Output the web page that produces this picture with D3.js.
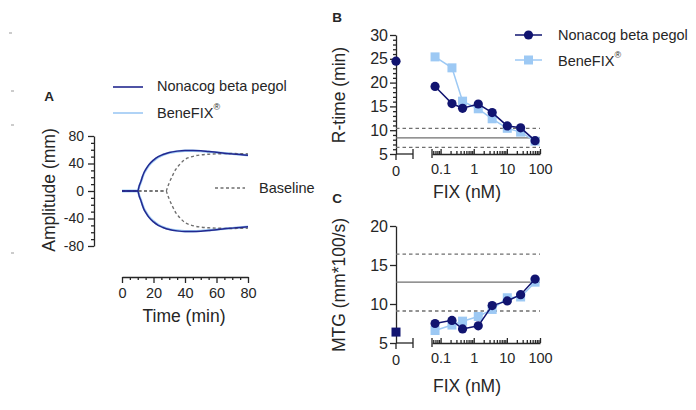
<!DOCTYPE html>
<html>
<head>
<meta charset="utf-8">
<script src="https://cdn.jsdelivr.net/npm/d3@7"></script>
<style>
  body { margin: 0; background: #fff; }
  svg { font-family: "Liberation Sans", Arial, sans-serif; }
</style>
</head>
<body>
<svg width="696" height="410"></svg>
<script>
/* data */

// panel A - amplitude traces (min / mm)
var timeA = [0, 5, 10, 11, 12, 13, 14, 15, 17, 20, 23, 26, 30, 35, 40, 45, 50, 55, 60, 65, 70, 75, 80];
var nonacogUp = [0, 0, 0, 8, 14, 21, 27, 31, 38, 45, 50, 53, 56, 58, 59, 59, 58.5, 57.5, 56.5, 55, 54, 53, 52];
var nonacogDown = [0, 0, 0, -8, -14, -21, -27, -31, -38, -45, -50, -53, -56, -58, -59, -59, -58.5, -57.5, -56.5, -55, -54, -53, -52];
var benefixUp = [0, 0, 0, 7, 13, 20, 26, 30, 37, 44, 49, 52.5, 55.5, 57.5, 58.5, 58.5, 58, 57, 56, 55, 54, 53, 52];
var benefixDown = [0, 0, 0, -7, -13, -20, -26, -30, -37, -44, -49, -52.5, -55.5, -57.5, -58.5, -58.5, -58, -57, -56, -55, -54, -53, -52];
var timeBase = [0, 10, 20, 28, 29, 30, 32, 34, 36, 38, 40, 43, 46, 50, 55, 60, 70, 80];
var baseUp = [0, 0, 0, 0, 6, 12, 22, 31, 37, 42, 46, 49, 51, 52.5, 53.5, 54, 54.5, 54];
var baseDown = [0, 0, 0, 0, -6, -12, -22, -31, -37, -42, -46, -49, -51, -52.5, -53.5, -54, -54.5, -54];

// panels B and C - FIX concentrations (nM)
var fix = [0.068, 0.22, 0.46, 1.37, 3.6, 10.3, 26, 71];

var rtimeZero = 24.5;
var rtimeNonacog = [19.2, 15.6, 14.6, 15.5, 13.7, 10.9, 10.5, 7.8];
var rtimeBenefix = [25.4, 23.1, 16.1, 14.5, 12.4, 10.4, 9.6, 7.7];
var rtimeRef = {mean: 8.4, low: 6.4, high: 10.4};

var mtgZero = 6.4;
var mtgNonacog = [7.5, 7.9, 6.8, 7.2, 9.8, 10.4, 11.2, 13.2];
var mtgBenefix = [6.6, 7.3, 7.8, 8.4, 9.3, 10.8, 10.9, 12.8];
var mtgRef = {mean: 12.8, low: 9.1, high: 16.4};

var logTicks = [0.1, 1, 10, 100];

var dark = "#111470", light = "#9dc9f4", darkA = "#23288f", grey = "#6f6f6f", ink = "#262626";

var svg = d3.select("svg");

/* little scan marks on the left edge */
[[33, 9], [91, 11], [125, 11], [253, 11]].forEach(function(m) {
  svg.append("line").attr("x1", m[1]).attr("x2", m[1] + 3).attr("y1", m[0]).attr("y2", m[0])
      .attr("stroke", "#999").attr("stroke-width", 1);
});

function label(txt, x, y, size, opts) {
  opts = opts || {};
  var t = svg.append("text").attr("x", x).attr("y", y).attr("font-size", size)
      .attr("fill", ink).attr("text-anchor", opts.anchor || "middle")
      .attr("dominant-baseline", "middle").text(txt);
  if (opts.bold) t.attr("font-weight", "bold");
  if (opts.rotate) t.attr("transform", "rotate(-90," + x + "," + y + ")");
  return t;
}

function styleAxis(size) {
  return function(g) {
    g.selectAll("path, line").attr("stroke", ink).attr("stroke-width", 1.3);
    g.selectAll("text").attr("font-size", size).attr("fill", ink);
  };
}

var plain = function(d) { return String(d); };

/* ---------------- panel A ---------------- */
var xA = d3.scaleLinear().domain([0, 80]).range([122, 248]);
var yA = d3.scaleLinear().domain([-80, 80]).range([246, 136]);

svg.append("g").attr("transform", "translate(0,277)")
    .call(d3.axisBottom(xA).tickValues([0, 20, 40, 60, 80]).tickSize(6).tickSizeOuter(0)
      .tickPadding(5).tickFormat(plain))
    .call(styleAxis(14.5));
svg.append("g").attr("transform", "translate(0,277)")
    .call(d3.axisBottom(xA).tickValues(d3.range(5, 80, 5).filter(function(d) { return d % 20; }))
      .tickSize(3).tickSizeOuter(0).tickFormat(""))
    .call(styleAxis(14.5)).select(".domain").remove();

svg.append("g").attr("transform", "translate(94,0)")
    .call(d3.axisLeft(yA).tickValues([-80, -40, 0, 40, 80]).tickSize(6).tickSizeOuter(0)
      .tickPadding(4).tickFormat(plain))
    .call(styleAxis(14));
svg.append("g").attr("transform", "translate(94,0)")
    .call(d3.axisLeft(yA).tickValues(d3.range(-70, 80, 10).filter(function(d) { return d % 40; }))
      .tickSize(3).tickSizeOuter(0).tickFormat(""))
    .call(styleAxis(14)).select(".domain").remove();

function traceLine(times) {
  return d3.line().curve(d3.curveMonotoneX)
      .x(function(d, i) { return xA(times[i]); })
      .y(function(d) { return yA(d); });
}

[benefixUp, benefixDown].forEach(function(s) {
  svg.append("path").datum(s).attr("d", traceLine(timeA))
      .attr("fill", "none").attr("stroke", light).attr("stroke-width", 2.4);
});
[baseUp, baseDown].forEach(function(s) {
  svg.append("path").datum(s).attr("d", traceLine(timeBase))
      .attr("fill", "none").attr("stroke", grey).attr("stroke-width", 1.4)
      .attr("stroke-dasharray", "3,2.5");
});
[nonacogUp, nonacogDown].forEach(function(s) {
  svg.append("path").datum(s).attr("d", traceLine(timeA))
      .attr("fill", "none").attr("stroke", darkA).attr("stroke-width", 1.5);
});

// legend A
svg.append("line").attr("x1", 113).attr("x2", 143).attr("y1", 87).attr("y2", 87)
    .attr("stroke", darkA).attr("stroke-width", 1.6);
svg.append("line").attr("x1", 113).attr("x2", 143).attr("y1", 113).attr("y2", 113)
    .attr("stroke", light).attr("stroke-width", 1.6);
label("Nonacog beta pegol", 157, 87, 14.5, {anchor: "start"});
var bfA = label("BeneFIX", 157, 114, 14.5, {anchor: "start"});
bfA.append("tspan").attr("font-size", 9).attr("dy", -6).text("®");
svg.append("line").attr("x1", 215).attr("x2", 245).attr("y1", 188).attr("y2", 188)
    .attr("stroke", grey).attr("stroke-width", 1.4).attr("stroke-dasharray", "3,2.5");
label("Baseline", 259, 189, 14.5, {anchor: "start"});

label("A", 49, 97, 13.5, {bold: true});
label("Amplitude (mm)", 50, 190, 17.5, {rotate: true});
label("Time (min)", 184, 317, 17.5);

/* ---------------- panels B and C ---------------- */
var zeroX = 396;
var xLog = d3.scaleLog().domain([0.055, 100]).range([432, 540]);
var minorLog = [];
[0.01, 0.1, 1, 10].forEach(function(dec) {
  d3.range(2, 10).forEach(function(k) {
    var v = +(k * dec).toPrecision(3);
    if (v >= 0.055 && v <= 100 && logTicks.indexOf(v) < 0) minorLog.push(v);
  });
});

function fixPanel(opt) {
  var y = d3.scaleLinear().domain(opt.domain).range(opt.range);
  var yb = opt.range[0];

  // y axis
  svg.append("g").attr("transform", "translate(" + zeroX + ",0)")
      .call(d3.axisLeft(y).tickValues(opt.yTicks).tickSize(6).tickSizeOuter(0).tickPadding(2))
      .call(styleAxis(16));
  if (opt.yMinor) {
    svg.append("g").attr("transform", "translate(" + zeroX + ",0)")
        .call(d3.axisLeft(y).tickValues(opt.yMinor).tickSize(3).tickSizeOuter(0).tickFormat(""))
        .call(styleAxis(16)).select(".domain").remove();
  }

  // x axis: zero segment, then log part
  svg.append("line").attr("x1", zeroX).attr("x2", zeroX + 17).attr("y1", yb).attr("y2", yb)
      .attr("stroke", ink).attr("stroke-width", 1.3);
  svg.append("line").attr("x1", zeroX).attr("x2", zeroX).attr("y1", yb).attr("y2", yb + 6)
      .attr("stroke", ink).attr("stroke-width", 1.3);
  svg.append("line").attr("x1", zeroX + 17).attr("x2", zeroX + 17).attr("y1", yb - 5).attr("y2", yb + 5)
      .attr("stroke", ink).attr("stroke-width", 1.3);
  svg.append("text").attr("x", zeroX).attr("y", yb + 22).attr("font-size", 14.5).attr("fill", ink)
      .attr("text-anchor", "middle").text("0");

  svg.append("g").attr("transform", "translate(0," + yb + ")")
      .call(d3.axisBottom(xLog).tickValues(logTicks).tickSize(-5).tickSizeOuter(0)
        .tickPadding(10).tickFormat(d3.format("~g")))
      .call(styleAxis(14.5));
  svg.append("g").attr("transform", "translate(0," + yb + ")")
      .call(d3.axisBottom(xLog).tickValues(minorLog).tickSize(-3).tickSizeOuter(0).tickFormat(""))
      .call(styleAxis(14.5)).select(".domain").remove();
  svg.append("line").attr("x1", xLog.range()[0]).attr("x2", xLog.range()[0]).attr("y1", yb - 5).attr("y2", yb + 4)
      .attr("stroke", ink).attr("stroke-width", 1.3);

  // reference lines
  [["low", "3.5,3"], ["high", "3.5,3"], ["mean", null]].forEach(function(r) {
    var l = svg.append("line").attr("x1", zeroX).attr("x2", 540)
        .attr("y1", y(opt.ref[r[0]])).attr("y2", y(opt.ref[r[0]]))
        .attr("stroke", grey).attr("stroke-width", 1.3);
    if (r[1]) l.attr("stroke-dasharray", r[1]);
  });

  var line = d3.line().x(function(d, i) { return xLog(fix[i]); }).y(function(d) { return y(d); });

  // BeneFIX (light squares)
  svg.append("path").datum(opt.benefix).attr("d", line)
      .attr("fill", "none").attr("stroke", light).attr("stroke-width", 1.5);
  svg.selectAll(null).data(opt.benefix).enter().append("rect")
      .attr("x", function(d, i) { return xLog(fix[i]) - 4.5; })
      .attr("y", function(d) { return y(d) - 4.5; })
      .attr("width", 9).attr("height", 9).attr("fill", light);

  // Nonacog (dark circles)
  svg.append("path").datum(opt.nonacog).attr("d", line)
      .attr("fill", "none").attr("stroke", dark).attr("stroke-width", 1.5);
  svg.selectAll(null).data(opt.nonacog).enter().append("circle")
      .attr("cx", function(d, i) { return xLog(fix[i]); })
      .attr("cy", function(d) { return y(d); })
      .attr("r", 4.6).attr("fill", dark);

  // zero concentration point
  if (opt.zeroShape === "circle") {
    svg.append("circle").attr("cx", zeroX).attr("cy", y(opt.zero)).attr("r", 4.6).attr("fill", dark);
  } else {
    svg.append("rect").attr("x", zeroX - 4.5).attr("y", y(opt.zero) - 4.5)
        .attr("width", 9).attr("height", 9).attr("fill", dark);
  }

  label(opt.title, 340, opt.titleY, 17.5, {rotate: true});
  label("FIX (nM)", 467, opt.xTitleY, 17.5);
  label(opt.letter, 337, opt.letterY, 13.5, {bold: true});
}

fixPanel({
  domain: [5, 30], range: [154, 35],
  yTicks: [5, 10, 15, 20, 25, 30],
  yMinor: d3.range(6, 30).filter(function(d) { return d % 5; }),
  ref: rtimeRef, nonacog: rtimeNonacog, benefix: rtimeBenefix,
  zero: rtimeZero, zeroShape: "circle",
  title: "R-time (min)", titleY: 95, xTitleY: 193, letter: "B", letterY: 18
});

fixPanel({
  domain: [5, 20], range: [343, 226],
  yTicks: [5, 10, 15, 20],
  ref: mtgRef, nonacog: mtgNonacog, benefix: mtgBenefix,
  zero: mtgZero, zeroShape: "square",
  title: "MTG (mm*100/s)", titleY: 285, xTitleY: 387, letter: "C", letterY: 199
});

// legend B
var lgB = svg.append("g");
lgB.append("line").attr("x1", 515).attr("x2", 542).attr("y1", 35).attr("y2", 35)
    .attr("stroke", dark).attr("stroke-width", 1.5);
lgB.append("circle").attr("cx", 528.5).attr("cy", 35).attr("r", 4.6).attr("fill", dark);
lgB.append("line").attr("x1", 515).attr("x2", 542).attr("y1", 60).attr("y2", 60)
    .attr("stroke", light).attr("stroke-width", 1.5);
lgB.append("rect").attr("x", 524).attr("y", 55.5).attr("width", 9).attr("height", 9).attr("fill", light);
label("Nonacog beta pegol", 558, 36, 14.5, {anchor: "start"});
var bfB = label("BeneFIX", 558, 62, 14.5, {anchor: "start"});
bfB.append("tspan").attr("font-size", 9).attr("dy", -6).text("®");
</script>
</body>
</html>
